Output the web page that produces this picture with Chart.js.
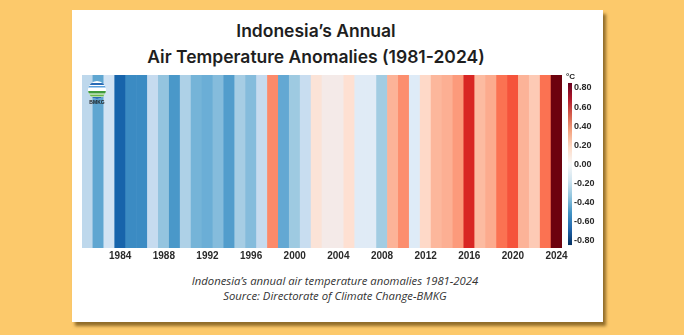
<!DOCTYPE html>
<html>
<head>
<meta charset="utf-8">
<script src="https://cdn.jsdelivr.net/npm/chart.js@4.4.1/dist/chart.umd.min.js"></script>
<style>
  html, body { margin: 0; padding: 0; width: 684px; height: 335px; overflow: hidden; background: #fcc96b; }
  #card { position: absolute; left: 72px; top: 10px; width: 531px; height: 312px; background: #ffffff;
          box-shadow: 3px 4px 3px rgba(110, 78, 20, 0.75); }
  #title { position: absolute; left: 0; top: 18px; width: 632px; text-align: center;
           font: 600 17.5px Inter, "Noto Sans", sans-serif; color: #1e1e1e; line-height: 26px; }
  #caption { position: absolute; left: 0; top: 273px; width: 670px; text-align: center;
             font: italic 11.3px "Open Sans", sans-serif; color: #333; line-height: 15px; }
  #chart { position: absolute; left: 0; top: 0; }
</style>
</head>
<body>
<div id="card"></div>
<div id="title">Indonesia’s Annual<br>Air Temperature Anomalies (1981-2024)</div>
<div id="caption">Indonesia’s annual air temperature anomalies 1981-2024<br>Source: Directorate of Climate Change-BMKG</div>
<canvas id="chart" width="684" height="335"></canvas>
<script>
// Annual air temperature anomaly (°C), one stripe per year
const years = [];
for (let y = 1981; y <= 2024; y++) years.push(y);

const anomalies = [
  -0.22, -0.43, -0.15, -0.64, -0.52, -0.52, -0.20, -0.32, -0.48, -0.26, // 1981-1990
  -0.38, -0.40, -0.35, -0.46, -0.28, -0.35, -0.20,  0.32, -0.42, -0.30, // 1991-2000
  -0.19,  0.08,  0.02,  0.02,  0.10, -0.09, -0.09, -0.29,  0.22,  0.31, // 2001-2010
  -0.10,  0.12,  0.21,  0.23,  0.28,  0.56,  0.20,  0.24,  0.38,  0.45, // 2011-2020
   0.22,  0.16,  0.38,  0.79                                            // 2021-2024
];

// Colour bar tick labels
const barTicks = [0.8, 0.6, 0.4, 0.2, 0.0, -0.2, -0.4, -0.6, -0.8];

// Stripe colour scale: blues below zero, reds above
const stripeStops = [
  [-0.8, '#08306b'], [-0.7, '#08519c'], [-0.6, '#2171b5'], [-0.5, '#4292c6'],
  [-0.4, '#6baed6'], [-0.3, '#9ecae1'], [-0.2, '#c6dbef'], [-0.1, '#deebf7'],
  [ 0.0, '#f1eded'], [ 0.1, '#fee0d2'], [ 0.2, '#fcbba1'], [ 0.3, '#fc9272'],
  [ 0.4, '#fb6a4a'], [ 0.5, '#ef3b2c'], [ 0.6, '#cb181d'], [ 0.7, '#a50f15'],
  [ 0.8, '#67000d']
];
// Colour bar gradient (top to bottom)
const barStops = ['#67001f', '#b2182b', '#d6604d', '#f4a582', '#fddbc7', '#f7f7f7',
                  '#d1e5f0', '#92c5de', '#4393c3', '#2166ac', '#053061'];

function hexToRgb(h) {
  return [parseInt(h.slice(1, 3), 16), parseInt(h.slice(3, 5), 16), parseInt(h.slice(5, 7), 16)];
}
function stripeColor(v) {
  if (v <= stripeStops[0][0]) return stripeStops[0][1];
  for (let i = 1; i < stripeStops.length; i++) {
    const [v1, c1] = stripeStops[i];
    if (v <= v1) {
      const [v0, c0] = stripeStops[i - 1];
      const t = (v - v0) / (v1 - v0);
      const a = hexToRgb(c0), b = hexToRgb(c1);
      const m = a.map((x, k) => Math.round(x + (b[k] - x) * t));
      return `rgb(${m[0]},${m[1]},${m[2]})`;
    }
  }
  return stripeStops[stripeStops.length - 1][1];
}

const tickFont = { family: '"Liberation Sans", Arial, sans-serif', size: 10, weight: 'bold' };

// Colour bar, unit label and logo drawn beside the stripes
const extras = {
  id: 'extras',
  afterDraw(chart) {
    const ctx = chart.ctx;
    const cb = chart.scales.cb;
    const top = cb.getPixelForValue(0.853), bottom = cb.getPixelForValue(-0.853);
    const x0 = chart.chartArea.right + 6;
    const g = ctx.createLinearGradient(0, top, 0, bottom);
    barStops.forEach((c, i) => g.addColorStop(i / (barStops.length - 1), c));
    ctx.save();
    ctx.fillStyle = g;
    ctx.fillRect(x0, top, 4, bottom - top);
    ctx.fillStyle = '#222';
    ctx.font = 'bold 8px "Liberation Sans", Arial, sans-serif';
    ctx.textAlign = 'left';
    ctx.textBaseline = 'middle';
    ctx.fillText('°C', x0 - 2, top - 6);

    // BMKG emblem
    const lx = chart.chartArea.left + 15, ly = chart.chartArea.top + 15, r = 9;
    ctx.beginPath(); ctx.arc(lx, ly, r, 0, Math.PI * 2); ctx.fillStyle = '#ffffff'; ctx.fill();
    ctx.save();
    ctx.beginPath(); ctx.arc(lx, ly, r, 0, Math.PI * 2); ctx.clip();
    ctx.fillStyle = '#2a6cb6'; ctx.fillRect(lx - r, ly - r + 2, 2 * r, 2);
    ctx.fillStyle = '#5aa0dc'; ctx.fillRect(lx - r, ly - r + 5, 2 * r, 1.5);
    ctx.fillStyle = '#3f9b3a'; ctx.fillRect(lx - r, ly + 1, 2 * r, 2.5);
    ctx.fillStyle = '#69b84a'; ctx.fillRect(lx - r, ly + 4.5, 2 * r, 2);
    ctx.fillStyle = '#2a6cb6'; ctx.fillRect(lx - r, ly + 7, 2 * r, 2);
    ctx.restore();
    ctx.fillStyle = '#1a1a1a';
    ctx.font = 'bold 5px "Liberation Sans", Arial, sans-serif';
    ctx.textAlign = 'center';
    ctx.fillText('BMKG', lx, ly + r + 4);
    ctx.restore();
  }
};

new Chart(document.getElementById('chart'), {
  type: 'bar',
  data: {
    labels: years,
    datasets: [{
      data: years.map(() => 1),
      backgroundColor: anomalies.map(stripeColor),
      borderWidth: 0,
      barPercentage: 1.0,
      categoryPercentage: 1.0
    }]
  },
  options: {
    responsive: false,
    animation: false,
    layout: { padding: { left: 82, top: 75, right: 82, bottom: 67 } },
    plugins: { legend: { display: false }, tooltip: { enabled: false } },
    scales: {
      x: {
        grid: { display: false, drawTicks: false },
        border: { display: false },
        ticks: {
          autoSkip: false, maxRotation: 0, padding: 2, color: '#2a2a2a', font: tickFont,
          callback: (v, i) => (years[i] % 4 === 0 ? String(years[i]) : '')
        },
        afterFit: (s) => { s.height = 20; }
      },
      y: { display: false, min: 0, max: 1 },
      cb: {
        position: 'right',
        min: -0.884, max: 0.937,
        grid: { display: false, drawTicks: false },
        border: { display: false },
        afterBuildTicks: (s) => { s.ticks = barTicks.map(v => ({ value: v })); },
        ticks: {
          padding: 12, color: '#2a2a2a',
          font: { family: '"Liberation Sans", Arial, sans-serif', size: 9, weight: 'bold' },
          callback: (v) => v.toFixed(2)
        },
        afterFit: (s) => { s.width = 40; }
      }
    }
  },
  plugins: [extras]
});
</script>
</body>
</html>
